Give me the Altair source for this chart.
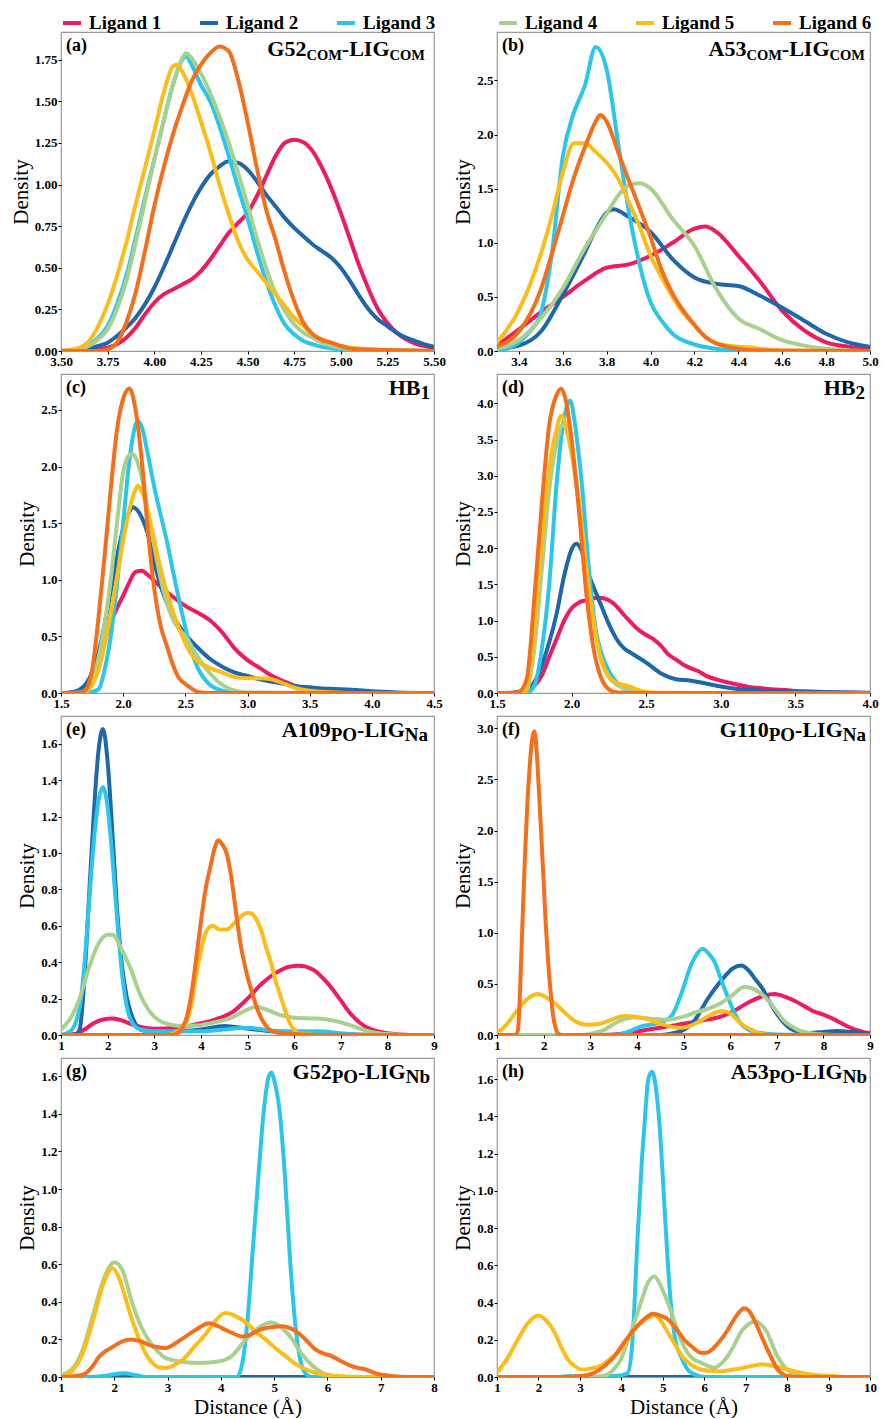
import altair as alt
import pandas as pd

SERIF = "Liberation Serif"
LIGANDS = ["Ligand 1", "Ligand 2", "Ligand 3", "Ligand 4", "Ligand 5", "Ligand 6"]
COLORS = ["#ee1a62", "#1f66ab", "#2cc6ea", "#a9d18e", "#fbbd1c", "#f46f1c"]

# ---------------- (a) G52COM-LIGCOM ----------------
A1 = [(3.5,0),(3.65,0.005),(3.75,0.02),(3.85,0.08),(3.9,0.14),(3.95,0.22),(4.0,0.29),(4.05,0.34),(4.1,0.37),(4.15,0.40),(4.2,0.43),(4.25,0.48),(4.3,0.55),(4.35,0.63),(4.4,0.71),(4.45,0.77),(4.5,0.83),(4.55,0.93),(4.6,1.05),(4.65,1.17),(4.7,1.25),(4.75,1.27),(4.8,1.255),(4.85,1.2),(4.9,1.1),(4.95,0.975),(5.0,0.83),(5.05,0.67),(5.1,0.51),(5.15,0.37),(5.2,0.25),(5.25,0.17),(5.3,0.11),(5.35,0.07),(5.4,0.045),(5.45,0.03),(5.5,0.02)]
A2 = [(3.5,0),(3.6,0.005),(3.7,0.03),(3.75,0.05),(3.8,0.09),(3.85,0.14),(3.9,0.2),(3.95,0.28),(4.0,0.38),(4.05,0.5),(4.1,0.63),(4.15,0.76),(4.2,0.88),(4.25,0.98),(4.3,1.06),(4.35,1.11),(4.4,1.14),(4.45,1.13),(4.5,1.09),(4.55,1.02),(4.6,0.94),(4.65,0.87),(4.7,0.8),(4.75,0.74),(4.8,0.69),(4.85,0.64),(4.9,0.6),(4.95,0.56),(5.0,0.5),(5.05,0.42),(5.1,0.33),(5.15,0.25),(5.2,0.19),(5.25,0.15),(5.3,0.11),(5.35,0.08),(5.4,0.06),(5.45,0.04),(5.5,0.025)]
A3 = [(3.5,0),(3.6,0.01),(3.65,0.04),(3.7,0.08),(3.75,0.15),(3.8,0.28),(3.85,0.45),(3.9,0.68),(3.95,0.92),(4.0,1.15),(4.05,1.38),(4.1,1.6),(4.15,1.75),(4.17,1.77),(4.2,1.72),(4.25,1.6),(4.3,1.5),(4.35,1.35),(4.4,1.17),(4.45,0.98),(4.5,0.8),(4.55,0.6),(4.6,0.42),(4.65,0.27),(4.7,0.16),(4.75,0.1),(4.8,0.06),(4.85,0.04),(4.9,0.025),(5.0,0.01),(5.2,0.005),(5.5,0)]
A4 = [(3.5,0),(3.6,0.01),(3.7,0.07),(3.75,0.13),(3.8,0.25),(3.85,0.42),(3.9,0.65),(3.95,0.9),(4.0,1.15),(4.05,1.38),(4.1,1.6),(4.15,1.76),(4.17,1.79),(4.2,1.76),(4.25,1.67),(4.3,1.55),(4.35,1.41),(4.4,1.25),(4.45,1.07),(4.5,0.88),(4.55,0.68),(4.6,0.5),(4.65,0.35),(4.7,0.24),(4.75,0.16),(4.8,0.11),(4.85,0.08),(4.9,0.05),(5.0,0.02),(5.1,0.005),(5.5,0)]
A5 = [(3.5,0),(3.6,0.02),(3.65,0.06),(3.7,0.15),(3.75,0.28),(3.8,0.45),(3.85,0.65),(3.9,0.88),(3.95,1.1),(4.0,1.32),(4.05,1.55),(4.1,1.71),(4.12,1.72),(4.15,1.68),(4.2,1.55),(4.25,1.38),(4.3,1.2),(4.35,1.0),(4.4,0.82),(4.45,0.66),(4.5,0.55),(4.55,0.48),(4.6,0.41),(4.65,0.34),(4.7,0.27),(4.75,0.2),(4.8,0.15),(4.85,0.1),(4.9,0.07),(5.0,0.03),(5.1,0.015),(5.2,0.008),(5.5,0)]
A6 = [(3.5,0),(3.7,0.0),(3.75,0.01),(3.8,0.05),(3.85,0.17),(3.9,0.35),(3.95,0.6),(4.0,0.87),(4.05,1.1),(4.1,1.3),(4.15,1.47),(4.2,1.62),(4.25,1.72),(4.3,1.79),(4.35,1.83),(4.4,1.8),(4.45,1.63),(4.5,1.38),(4.55,1.1),(4.6,0.85),(4.65,0.67),(4.7,0.47),(4.75,0.3),(4.8,0.17),(4.85,0.1),(4.9,0.065),(4.95,0.05),(5.0,0.03),(5.05,0.015),(5.1,0.01),(5.3,0.005),(5.5,0)]

# ---------------- (b) A53COM-LIGCOM ----------------
B1 = [(3.3,0.05),(3.4,0.2),(3.5,0.36),(3.6,0.5),(3.7,0.65),(3.8,0.77),(3.9,0.8),(4.0,0.88),(4.1,1.0),(4.2,1.13),(4.25,1.15),(4.3,1.1),(4.4,0.88),(4.5,0.64),(4.6,0.37),(4.7,0.19),(4.8,0.08),(4.9,0.04),(5.0,0.02)]
B2 = [(3.3,0.02),(3.4,0.05),(3.5,0.18),(3.6,0.52),(3.7,0.91),(3.75,1.12),(3.8,1.28),(3.83,1.31),(3.9,1.24),(4.0,1.1),(4.1,0.85),(4.2,0.68),(4.3,0.62),(4.4,0.6),(4.5,0.51),(4.6,0.4),(4.7,0.28),(4.8,0.16),(4.9,0.08),(5.0,0.04)]
B3 = [(3.3,0.0),(3.4,0.08),(3.45,0.18),(3.5,0.35),(3.55,0.9),(3.6,1.8),(3.65,2.2),(3.7,2.45),(3.75,2.81),(3.8,2.6),(3.85,1.95),(3.9,1.3),(3.95,0.8),(4.0,0.45),(4.05,0.28),(4.1,0.16),(4.2,0.06),(4.3,0.02),(4.4,0.0),(5.0,0.0)]
B4 = [(3.3,0.02),(3.4,0.1),(3.5,0.3),(3.6,0.58),(3.7,0.95),(3.8,1.27),(3.85,1.43),(3.9,1.53),(3.95,1.55),(4.0,1.5),(4.1,1.22),(4.2,0.97),(4.3,0.57),(4.4,0.3),(4.5,0.2),(4.6,0.1),(4.7,0.05),(4.8,0.02),(4.9,0.005),(5.0,0.0)]
B5 = [(3.3,0.08),(3.4,0.38),(3.5,0.9),(3.55,1.25),(3.6,1.65),(3.65,1.92),(3.7,1.92),(3.75,1.84),(3.8,1.74),(3.85,1.6),(3.9,1.38),(3.95,1.15),(4.0,0.88),(4.05,0.68),(4.1,0.5),(4.15,0.35),(4.2,0.24),(4.25,0.13),(4.3,0.07),(4.4,0.04),(4.45,0.035),(4.5,0.02),(4.6,0.005),(5.0,0.0)]
B6 = [(3.3,0.04),(3.4,0.18),(3.5,0.57),(3.55,0.9),(3.6,1.25),(3.65,1.6),(3.7,1.88),(3.75,2.12),(3.77,2.18),(3.8,2.12),(3.85,1.85),(3.9,1.58),(3.95,1.32),(4.0,1.05),(4.05,0.75),(4.1,0.53),(4.15,0.37),(4.2,0.24),(4.25,0.13),(4.3,0.07),(4.35,0.04),(4.4,0.02),(4.5,0.005),(5.0,0.0)]

# ---------------- (c) HB1 ----------------
C1 = [(1.5,0),(1.6,0.005),(1.65,0.02),(1.7,0.06),(1.75,0.15),(1.8,0.27),(1.85,0.45),(1.9,0.62),(1.95,0.75),(2.0,0.86),(2.05,0.98),(2.1,1.07),(2.15,1.08),(2.2,1.04),(2.3,0.94),(2.4,0.85),(2.5,0.77),(2.6,0.71),(2.7,0.64),(2.8,0.53),(2.9,0.39),(3.0,0.29),(3.1,0.22),(3.2,0.15),(3.3,0.1),(3.4,0.055),(3.5,0.03),(3.6,0.015),(3.8,0.005),(4.0,0.0),(4.5,0.0)]
C2 = [(1.5,0),(1.6,0.01),(1.7,0.08),(1.75,0.18),(1.8,0.35),(1.85,0.6),(1.9,0.9),(1.95,1.2),(2.0,1.45),(2.05,1.6),(2.08,1.64),(2.1,1.63),(2.15,1.55),(2.2,1.4),(2.25,1.15),(2.3,0.95),(2.35,0.8),(2.4,0.68),(2.5,0.52),(2.6,0.4),(2.7,0.3),(2.8,0.23),(2.9,0.18),(3.0,0.15),(3.1,0.12),(3.2,0.1),(3.3,0.08),(3.4,0.06),(3.5,0.05),(3.6,0.04),(3.7,0.035),(3.8,0.03),(3.9,0.025),(4.0,0.015),(4.2,0.005),(4.5,0.0)]
C3 = [(1.5,0),(1.7,0.0),(1.8,0.03),(1.85,0.2),(1.9,0.5),(1.95,0.95),(2.0,1.5),(2.05,2.05),(2.1,2.37),(2.12,2.4),(2.15,2.35),(2.2,2.1),(2.25,1.82),(2.3,1.58),(2.35,1.35),(2.4,1.08),(2.45,0.82),(2.5,0.58),(2.55,0.37),(2.6,0.22),(2.65,0.13),(2.7,0.07),(2.8,0.02),(2.9,0.0),(4.5,0.0)]
C4 = [(1.5,0),(1.65,0.005),(1.7,0.03),(1.75,0.12),(1.8,0.3),(1.85,0.6),(1.9,1.0),(1.95,1.5),(2.0,1.95),(2.05,2.1),(2.08,2.11),(2.1,2.08),(2.15,1.9),(2.2,1.6),(2.25,1.3),(2.3,1.02),(2.35,0.8),(2.4,0.65),(2.5,0.5),(2.6,0.32),(2.7,0.17),(2.8,0.07),(2.9,0.02),(3.0,0.005),(4.5,0.0)]
C5 = [(1.5,0),(1.65,0.0),(1.7,0.01),(1.75,0.07),(1.8,0.2),(1.85,0.42),(1.9,0.7),(1.95,1.02),(2.0,1.35),(2.05,1.62),(2.1,1.8),(2.12,1.83),(2.15,1.78),(2.2,1.6),(2.25,1.35),(2.3,1.1),(2.35,0.9),(2.4,0.72),(2.45,0.57),(2.5,0.44),(2.55,0.34),(2.6,0.28),(2.7,0.22),(2.8,0.18),(2.9,0.14),(3.0,0.13),(3.1,0.13),(3.2,0.12),(3.3,0.08),(3.4,0.04),(3.5,0.02),(3.6,0.01),(3.8,0.0),(4.5,0.0)]
C6 = [(1.5,0),(1.65,0.0),(1.7,0.03),(1.75,0.2),(1.8,0.65),(1.85,1.2),(1.9,1.8),(1.95,2.32),(2.0,2.6),(2.05,2.69),(2.1,2.5),(2.15,2.05),(2.2,1.42),(2.25,0.92),(2.3,0.6),(2.35,0.42),(2.4,0.25),(2.45,0.13),(2.5,0.08),(2.55,0.04),(2.6,0.01),(2.7,0.0),(4.5,0.0)]

# ---------------- (d) HB2 ----------------
D1 = [(1.5,0),(1.6,0.0),(1.7,0.03),(1.75,0.1),(1.8,0.24),(1.85,0.5),(1.9,0.75),(1.95,1.0),(2.0,1.17),(2.05,1.25),(2.1,1.28),(2.18,1.32),(2.25,1.28),(2.3,1.2),(2.35,1.08),(2.4,0.97),(2.45,0.87),(2.5,0.8),(2.55,0.74),(2.6,0.65),(2.65,0.53),(2.7,0.46),(2.75,0.39),(2.8,0.34),(2.85,0.3),(2.9,0.24),(3.0,0.17),(3.1,0.12),(3.2,0.08),(3.3,0.06),(3.43,0.04),(3.6,0.015),(3.8,0.005),(4.0,0.0)]
D2 = [(1.5,0),(1.6,0.005),(1.7,0.04),(1.75,0.15),(1.8,0.38),(1.85,0.7),(1.9,1.1),(1.95,1.62),(2.0,1.98),(2.03,2.06),(2.07,1.95),(2.1,1.72),(2.15,1.45),(2.2,1.2),(2.25,0.95),(2.3,0.75),(2.35,0.62),(2.4,0.55),(2.5,0.42),(2.6,0.27),(2.7,0.19),(2.8,0.17),(2.9,0.13),(3.0,0.09),(3.1,0.06),(3.2,0.04),(3.4,0.025),(3.6,0.02),(3.8,0.01),(4.0,0.005)]
D3 = [(1.5,0),(1.7,0.0),(1.75,0.1),(1.8,0.6),(1.85,1.5),(1.9,2.9),(1.95,3.8),(1.99,4.04),(2.02,3.75),(2.05,3.25),(2.07,2.86),(2.1,2.1),(2.13,1.4),(2.16,0.9),(2.2,0.55),(2.25,0.3),(2.3,0.15),(2.35,0.06),(2.4,0.02),(2.5,0.0),(4.0,0.0)]
D4 = [(1.5,0),(1.65,0.0),(1.7,0.04),(1.75,0.6),(1.8,1.7),(1.85,2.8),(1.9,3.45),(1.94,3.7),(1.97,3.6),(2.0,3.3),(2.05,2.6),(2.1,1.7),(2.15,0.95),(2.2,0.45),(2.25,0.22),(2.3,0.12),(2.4,0.03),(2.5,0.0),(4.0,0.0)]
D5 = [(1.5,0),(1.65,0.0),(1.7,0.05),(1.75,0.9),(1.8,2.1),(1.85,3.1),(1.9,3.65),(1.93,3.83),(1.96,3.72),(2.0,3.35),(2.05,2.65),(2.1,1.7),(2.15,0.95),(2.2,0.45),(2.25,0.22),(2.3,0.14),(2.35,0.11),(2.4,0.08),(2.45,0.04),(2.5,0.015),(2.6,0.005),(3.0,0.0),(4.0,0.0)]
D6 = [(1.5,0),(1.6,0.0),(1.65,0.02),(1.7,0.2),(1.75,1.3),(1.8,2.6),(1.85,3.7),(1.9,4.12),(1.93,4.2),(1.96,4.05),(2.0,3.5),(2.05,2.5),(2.1,1.35),(2.15,0.58),(2.2,0.2),(2.25,0.05),(2.3,0.01),(2.4,0.0),(4.0,0.0)]

# ---------------- (e) A109PO-LIGNa ----------------
E1 = [(1.0,0.0),(1.3,0.005),(1.5,0.03),(1.7,0.065),(1.9,0.085),(2.1,0.09),(2.3,0.08),(2.5,0.06),(2.8,0.04),(3.0,0.035),(3.5,0.04),(4.0,0.065),(4.3,0.085),(4.7,0.13),(5.0,0.2),(5.3,0.28),(5.6,0.34),(5.9,0.375),(6.1,0.38),(6.4,0.36),(6.7,0.29),(7.0,0.19),(7.2,0.12),(7.5,0.05),(7.8,0.02),(8.0,0.01),(8.5,0.0),(9.0,0.0)]
E2 = [(1.0,0),(1.3,0.0),(1.4,0.03),(1.5,0.3),(1.6,0.75),(1.7,1.2),(1.8,1.55),(1.9,1.68),(2.0,1.5),(2.1,1.12),(2.2,0.7),(2.3,0.4),(2.4,0.22),(2.5,0.12),(2.6,0.06),(2.7,0.03),(2.9,0.02),(3.2,0.015),(3.6,0.02),(4.0,0.03),(4.5,0.05),(5.0,0.035),(5.5,0.02),(6.0,0.015),(6.5,0.01),(7.0,0.005),(8.0,0.0),(9.0,0.0)]
E3 = [(1.0,0),(1.2,0.02),(1.4,0.15),(1.5,0.38),(1.6,0.72),(1.7,1.05),(1.8,1.28),(1.9,1.36),(2.0,1.25),(2.1,0.98),(2.2,0.65),(2.3,0.36),(2.4,0.17),(2.5,0.08),(2.7,0.03),(3.0,0.02),(3.5,0.02),(4.0,0.02),(4.5,0.03),(5.0,0.04),(5.5,0.025),(6.0,0.02),(6.5,0.02),(7.0,0.01),(7.5,0.0),(9.0,0.0)]
E4 = [(1.0,0.03),(1.2,0.09),(1.4,0.2),(1.6,0.37),(1.8,0.5),(2.0,0.55),(2.1,0.55),(2.3,0.47),(2.5,0.36),(2.7,0.22),(2.9,0.13),(3.1,0.08),(3.3,0.06),(3.6,0.05),(4.0,0.055),(4.3,0.07),(4.7,0.1),(5.0,0.14),(5.2,0.155),(5.4,0.14),(5.7,0.11),(6.0,0.095),(6.5,0.09),(7.0,0.07),(7.3,0.045),(7.6,0.02),(8.0,0.005),(8.5,0.0),(9.0,0.0)]
E5 = [(1.0,0),(3.3,0.0),(3.5,0.02),(3.7,0.08),(3.8,0.17),(3.9,0.33),(4.0,0.46),(4.1,0.56),(4.25,0.6),(4.4,0.58),(4.55,0.58),(4.7,0.61),(4.85,0.65),(5.0,0.67),(5.1,0.665),(5.2,0.63),(5.3,0.57),(5.4,0.48),(5.5,0.4),(5.6,0.3),(5.7,0.22),(5.8,0.14),(5.9,0.07),(6.0,0.03),(6.1,0.01),(6.5,0.0),(9.0,0.0)]
E6 = [(1.0,0),(3.4,0.0),(3.5,0.01),(3.6,0.04),(3.7,0.1),(3.8,0.23),(3.9,0.42),(4.0,0.62),(4.1,0.8),(4.2,0.92),(4.3,1.03),(4.37,1.07),(4.45,1.05),(4.55,1.0),(4.65,0.87),(4.75,0.68),(4.85,0.5),(5.0,0.32),(5.1,0.23),(5.2,0.15),(5.3,0.09),(5.4,0.05),(5.5,0.025),(5.6,0.015),(6.0,0.005),(6.5,0.0),(9.0,0.0)]

# ---------------- (f) G110PO-LIGNa ----------------
F1 = [(1.0,0),(3.0,0.0),(3.5,0.005),(4.0,0.035),(4.5,0.07),(5.0,0.11),(5.5,0.15),(5.8,0.18),(6.1,0.24),(6.4,0.32),(6.7,0.38),(6.95,0.4),(7.2,0.37),(7.4,0.33),(7.6,0.28),(7.8,0.23),(8.0,0.2),(8.2,0.16),(8.45,0.1),(8.7,0.05),(8.9,0.025),(9.0,0.02)]
F2 = [(1.0,0),(4.5,0.0),(4.7,0.01),(4.95,0.04),(5.1,0.08),(5.25,0.15),(5.5,0.34),(5.7,0.47),(5.9,0.58),(6.05,0.65),(6.24,0.68),(6.4,0.63),(6.55,0.54),(6.7,0.45),(6.85,0.32),(7.0,0.21),(7.15,0.12),(7.3,0.06),(7.5,0.03),(7.7,0.02),(8.0,0.03),(8.3,0.04),(8.6,0.03),(8.8,0.02),(9.0,0.01)]
F3 = [(1.0,0),(3.5,0.0),(3.8,0.03),(4.1,0.085),(4.5,0.12),(4.75,0.19),(4.95,0.4),(5.15,0.67),(5.3,0.8),(5.41,0.84),(5.55,0.79),(5.66,0.72),(5.8,0.55),(5.9,0.43),(6.1,0.21),(6.25,0.1),(6.4,0.05),(6.65,0.02),(7.0,0.005),(8.0,0.0),(9.0,0.0)]
F4 = [(1.0,0),(2.8,0.0),(3.0,0.01),(3.3,0.05),(3.55,0.12),(3.95,0.17),(4.3,0.16),(4.65,0.15),(5.0,0.18),(5.25,0.22),(5.55,0.26),(5.8,0.31),(6.05,0.39),(6.3,0.47),(6.45,0.46),(6.65,0.41),(6.85,0.32),(7.0,0.23),(7.15,0.14),(7.3,0.09),(7.5,0.04),(7.7,0.02),(8.0,0.005),(8.5,0.0),(9.0,0.0)]
F5 = [(1.0,0.02),(1.2,0.1),(1.45,0.25),(1.7,0.37),(1.88,0.4),(2.05,0.37),(2.24,0.31),(2.45,0.22),(2.66,0.14),(2.95,0.1),(3.2,0.11),(3.4,0.14),(3.74,0.185),(4.1,0.17),(4.5,0.11),(4.95,0.07),(5.2,0.1),(5.4,0.15),(5.6,0.2),(5.82,0.235),(6.0,0.21),(6.1,0.17),(6.3,0.09),(6.45,0.055),(6.6,0.02),(6.75,0.005),(7.0,0.0),(9.0,0.0)]
F6 = [(1.0,0),(1.4,0.0),(1.45,0.05),(1.5,0.5),(1.55,1.15),(1.6,1.75),(1.65,2.25),(1.7,2.62),(1.75,2.88),(1.8,2.97),(1.85,2.78),(1.9,2.38),(1.95,1.95),(2.0,1.5),(2.05,1.05),(2.1,0.7),(2.15,0.42),(2.2,0.2),(2.25,0.08),(2.3,0.02),(2.4,0.0),(9.0,0.0)]

# ---------------- (g) G52PO-LIGNb ----------------
G1 = [(1.0,0.0),(8.0,0.0)]
G2 = [(1.0,0.0),(8.0,0.0)]
G3 = [(1.0,0),(1.5,0.0),(1.8,0.005),(2.0,0.015),(2.2,0.02),(2.4,0.01),(2.6,0.0),(4.3,0.0),(4.4,0.07),(4.5,0.3),(4.6,0.68),(4.7,1.05),(4.8,1.4),(4.9,1.6),(4.95,1.62),(5.0,1.58),(5.1,1.42),(5.2,1.08),(5.3,0.62),(5.4,0.27),(5.5,0.08),(5.6,0.015),(5.7,0.0),(8.0,0.0)]
G4 = [(1.0,0.01),(1.2,0.04),(1.4,0.14),(1.6,0.33),(1.8,0.52),(2.0,0.61),(2.15,0.57),(2.34,0.39),(2.5,0.27),(2.66,0.19),(2.8,0.14),(2.97,0.1),(3.3,0.08),(3.6,0.075),(4.0,0.085),(4.2,0.11),(4.47,0.2),(4.7,0.26),(4.95,0.29),(5.15,0.26),(5.34,0.2),(5.5,0.13),(5.72,0.06),(6.0,0.012),(6.3,0.0),(8.0,0.0)]
G5 = [(1.0,0.0),(1.2,0.03),(1.4,0.12),(1.6,0.3),(1.8,0.5),(1.96,0.58),(2.1,0.52),(2.22,0.41),(2.35,0.29),(2.47,0.2),(2.6,0.12),(2.72,0.074),(2.85,0.05),(2.97,0.048),(3.1,0.06),(3.28,0.09),(3.5,0.16),(3.72,0.23),(3.9,0.3),(4.09,0.34),(4.3,0.32),(4.47,0.29),(4.65,0.24),(4.84,0.2),(5.0,0.16),(5.22,0.11),(5.4,0.07),(5.6,0.04),(5.8,0.02),(5.97,0.012),(6.3,0.003),(7.0,0.0),(8.0,0.0)]
G6 = [(1.0,0.0),(1.2,0.003),(1.41,0.012),(1.6,0.06),(1.72,0.11),(1.85,0.14),(1.97,0.16),(2.15,0.19),(2.31,0.2),(2.5,0.19),(2.66,0.17),(2.8,0.16),(2.97,0.154),(3.15,0.18),(3.34,0.215),(3.55,0.255),(3.78,0.286),(3.95,0.27),(4.09,0.25),(4.25,0.23),(4.41,0.215),(4.55,0.225),(4.72,0.25),(4.95,0.265),(5.16,0.27),(5.3,0.26),(5.47,0.23),(5.62,0.19),(5.78,0.145),(5.93,0.125),(6.09,0.11),(6.25,0.085),(6.4,0.065),(6.55,0.05),(6.72,0.04),(6.9,0.02),(7.03,0.012),(7.3,0.003),(7.6,0.0),(8.0,0.0)]

# ---------------- (h) A53PO-LIGNb ----------------
H1 = [(1.0,0.0),(10.0,0.0)]
H2 = [(1.0,0.0),(10.0,0.0)]
H3 = [(1.0,0.0),(2.5,0.0),(2.8,0.005),(3.1,0.0),(3.8,0.005),(4.0,0.01),(4.15,0.02),(4.27,0.2),(4.39,0.74),(4.5,1.18),(4.56,1.36),(4.65,1.6),(4.74,1.64),(4.83,1.56),(4.92,1.36),(5.04,0.92),(5.12,0.62),(5.2,0.38),(5.3,0.2),(5.44,0.11),(5.6,0.04),(5.76,0.014),(6.0,0.0),(10.0,0.0)]
H4 = [(1.0,0.0),(3.4,0.0),(3.67,0.014),(3.85,0.05),(3.99,0.095),(4.15,0.19),(4.31,0.29),(4.5,0.42),(4.65,0.51),(4.8,0.54),(4.95,0.49),(5.12,0.4),(5.28,0.3),(5.44,0.2),(5.6,0.13),(5.75,0.095),(5.92,0.077),(6.08,0.06),(6.24,0.05),(6.4,0.07),(6.56,0.11),(6.72,0.17),(6.88,0.24),(7.05,0.28),(7.24,0.3),(7.38,0.28),(7.52,0.24),(7.65,0.17),(7.77,0.11),(7.9,0.065),(8.0,0.04),(8.15,0.015),(8.33,0.005),(8.6,0.0),(10.0,0.0)]
H5 = [(1.0,0.023),(1.25,0.1),(1.5,0.2),(1.75,0.29),(2.0,0.33),(2.2,0.3),(2.39,0.24),(2.55,0.16),(2.71,0.095),(2.87,0.06),(3.03,0.04),(3.25,0.045),(3.51,0.06),(3.75,0.1),(3.99,0.15),(4.2,0.22),(4.47,0.29),(4.65,0.32),(4.8,0.33),(4.96,0.3),(5.12,0.24),(5.28,0.18),(5.44,0.12),(5.6,0.08),(5.76,0.055),(5.92,0.04),(6.16,0.033),(6.4,0.03),(6.7,0.04),(6.96,0.05),(7.2,0.062),(7.37,0.068),(7.6,0.062),(7.85,0.05),(8.1,0.035),(8.33,0.023),(8.6,0.012),(9.1,0.005),(9.5,0.0),(10.0,0.0)]
H6 = [(1.0,0.0),(2.5,0.0),(3.0,0.005),(3.35,0.023),(3.6,0.06),(3.83,0.11),(4.05,0.18),(4.31,0.255),(4.55,0.31),(4.76,0.34),(4.95,0.33),(5.12,0.31),(5.32,0.26),(5.52,0.2),(5.72,0.16),(5.92,0.13),(6.05,0.13),(6.2,0.15),(6.4,0.2),(6.56,0.25),(6.72,0.31),(6.85,0.35),(6.96,0.37),(7.08,0.355),(7.2,0.31),(7.36,0.23),(7.52,0.15),(7.65,0.09),(7.77,0.04),(7.9,0.015),(8.0,0.005),(8.3,0.0),(10.0,0.0)]

# tick values
A_XT = [3.5, 3.75, 4.0, 4.25, 4.5, 4.75, 5.0, 5.25, 5.5]
A_YT = [0, 0.25, 0.5, 0.75, 1.0, 1.25, 1.5, 1.75]
B_XT = [3.4, 3.6, 3.8, 4.0, 4.2, 4.4, 4.6, 4.8, 5.0]
B_YT = [0, 0.5, 1.0, 1.5, 2.0, 2.5]
C_XT = [1.5, 2.0, 2.5, 3.0, 3.5, 4.0, 4.5]
C_YT = [0, 0.5, 1.0, 1.5, 2.0, 2.5]
D_XT = [1.5, 2.0, 2.5, 3.0, 3.5, 4.0]
D_YT = [0, 0.5, 1.0, 1.5, 2.0, 2.5, 3.0, 3.5, 4.0]
E_XT = [1, 2, 3, 4, 5, 6, 7, 8, 9]
E_YT = [0, 0.2, 0.4, 0.6, 0.8, 1.0, 1.2, 1.4, 1.6]
F_XT = [1, 2, 3, 4, 5, 6, 7, 8, 9]
F_YT = [0, 0.5, 1.0, 1.5, 2.0, 2.5, 3.0]
G_XT = [1, 2, 3, 4, 5, 6, 7, 8]
G_YT = [0, 0.2, 0.4, 0.6, 0.8, 1.0, 1.2, 1.4, 1.6]
H_XT = [1, 2, 3, 4, 5, 6, 7, 8, 9, 10]
H_YT = [0, 0.2, 0.4, 0.6, 0.8, 1.0, 1.2, 1.4, 1.6]

PANEL_TITLES = {
    "a": [("G52", "main"), ("COM", "sub"), ("-LIG", "main"), ("COM", "sub")],
    "b": [("A53", "main"), ("COM", "sub"), ("-LIG", "main"), ("COM", "sub")],
    "c": [("HB", "main2"), ("1", "sub2")],
    "d": [("HB", "main2"), ("2", "sub2")],
    "e": [("A109", "main2"), ("PO", "sub2"), ("-LIG", "main2"), ("Na", "sub2")],
    "f": [("G110", "main2"), ("PO", "sub2"), ("-LIG", "main2"), ("Na", "sub2")],
    "g": [("G52", "main2"), ("PO", "sub2"), ("-LIG", "main2"), ("Nb", "sub2")],
    "h": [("A53", "main2"), ("PO", "sub2"), ("-LIG", "main2"), ("Nb", "sub2")],
}

W, H = 373, 319

# Times-Bold advance widths (per 1000 em) for positioning the subscript pieces
TB = {'G': 778, '5': 500, '2': 500, 'C': 722, 'O': 778, 'M': 944, '-': 333, 'L': 667,
      'I': 389, 'A': 722, '1': 500, '0': 500, '9': 500, '3': 500, 'P': 611, 'N': 722,
      'a': 500, 'b': 556, 'H': 778, 'B': 667}
# (font size, alphabetic baseline from the plot top)
STYLE = {"main": (22, 24), "sub": (14.5, 28), "main2": (22, 21), "sub2": (19, 25)}
TOP_SHIFT = 0.79  # Vega's "top" baseline sits this many em above the alphabetic one


def text_width(s, size):
    return sum(TB.get(ch, 500) for ch in s) * size / 1000.0


def panel(key, series, xdom, ymax, xt, yt, xfmt, yfmt, xtitle, legend_vals, right_margin):
    rows = []
    for lig, pts in zip(LIGANDS, series):
        for x, y in pts:
            rows.append({"ligand": lig, "x": x, "y": y})
    df = pd.DataFrame(rows)
    if legend_vals:
        leg = alt.Legend(values=legend_vals, orient="none", legendX=0, legendY=-20,
                         direction="horizontal", title=None, columns=3,
                         symbolType="stroke", symbolSize=324, symbolStrokeWidth=8,
                         labelFont=SERIF, labelFontWeight="bold", labelFontSize=19,
                         labelColor="black", columnPadding=30, labelOffset=6, padding=0)
    else:
        leg = None
    lines = alt.Chart(df).mark_line(clip=True, interpolate="monotone",
                                    strokeCap="round", strokeJoin="round").encode(
        x=alt.X("x:Q", scale=alt.Scale(domain=xdom, nice=False, zero=False),
                axis=alt.Axis(values=xt, format=xfmt, title=xtitle, labelFlush=False,
                              labelOverlap=False)),
        y=alt.Y("y:Q", scale=alt.Scale(domain=[0, ymax], nice=False, zero=True),
                axis=alt.Axis(values=yt, format=yfmt, title="Density", labelOverlap=False)),
        color=alt.Color("ligand:N", scale=alt.Scale(domain=LIGANDS, range=COLORS), legend=leg),
        detail="ligand:N",
    )
    layers = [lines]
    one = pd.DataFrame({"t": [f"({key})"]})
    layers.append(alt.Chart(one).mark_text(align="left", baseline="top", font=SERIF,
                                           fontWeight="bold", fontSize=18, color="black").encode(
        text="t:N", x=alt.value(5), y=alt.value(19 - TOP_SHIFT * 18)))
    right = W - right_margin
    for txt, kind in reversed(PANEL_TITLES[key]):
        size, base = STYLE[kind]
        layers.append(alt.Chart(pd.DataFrame({"t": [txt]})).mark_text(
            align="right", baseline="top", font=SERIF, fontWeight="bold",
            fontSize=size, color="black").encode(
            text="t:N", x=alt.value(right), y=alt.value(base - TOP_SHIFT * size)))
        right -= text_width(txt, size)
    return alt.layer(*layers).properties(width=W, height=H)


charts = [
    panel("a", [A1, A2, A3, A4, A5, A6], [3.5, 5.5], 1.917, A_XT, A_YT, ".2f", ".2f", None, LIGANDS[:3], 9),
    panel("b", [B1, B2, B3, B4, B5, B6], [3.3, 5.0], 2.948, B_XT, B_YT, ".1f", ".1f", None, LIGANDS[3:], 5),
    panel("c", [C1, C2, C3, C4, C5, C6], [1.5, 4.5], 2.818, C_XT, C_YT, ".1f", ".1f", None, None, 4),
    panel("d", [D1, D2, D3, D4, D5, D6], [1.5, 4.0], 4.405, D_XT, D_YT, ".1f", ".1f", None, None, 5),
    panel("e", [E1, E2, E3, E4, E5, E6], [1, 9], 1.752, E_XT, E_YT, "d", ".1f", None, None, 6),
    panel("f", [F1, F2, F3, F4, F5, F6], [1, 9], 3.12, F_XT, F_YT, "d", ".1f", None, None, 4),
    panel("g", [G1, G2, G3, G4, G5, G6], [1, 8], 1.697, G_XT, G_YT, "d", ".1f", "Distance (Å)", None, 4),
    panel("h", [H1, H2, H3, H4, H5, H6], [1, 10], 1.714, H_XT, H_YT, "d", ".1f", "Distance (Å)", None, 3),
]

chart = alt.concat(*charts, columns=2, spacing={"row": 4, "column": 6}).resolve_scale(
    color="independent"
).configure_axis(
    labelFont=SERIF, labelFontWeight="bold", labelFontSize=13, labelColor="black",
    tickColor="black", tickSize=3, tickWidth=1, domain=False, grid=False, labelPadding=1,
    titleFont=SERIF, titleFontWeight="normal", titleFontSize=21, titleColor="black",
    titlePadding=3,
).configure_axisX(titlePadding=2).configure_line(strokeWidth=4).configure_view(
    stroke="#9a9a9a", strokeWidth=1.2
).properties(
    background="white", padding={"left": 1, "top": 3, "right": 0, "bottom": 0}
)

chart.save("out.html", embed_options={"renderer": "svg", "actions": False})
